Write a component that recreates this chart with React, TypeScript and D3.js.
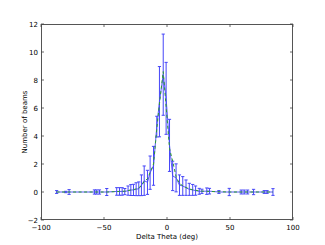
import React, { useEffect, useRef } from "react";
import * as d3 from "d3";

// bin centres (deg), counts, errors
const thetaX = [-87.6, -80.4, -77.7, -57.6, -55.8, -53.6, -47.8, -39.9, -37.7, -35.6, -33.5, -30.9, -28.7, -26.6, -24.5, -22.4, -20.3, -18.1, -15.5, -13.4, -10.7, -8.1, -6.0, -3.0, -0.7, 2.0, 4.5, 7.2, 9.9, 12.5, 15.1, 17.7, 20.4, 22.7, 25.6, 27.7, 31.6, 33.7, 41.2, 49.4, 58.9, 61.3, 64.0, 68.7, 77.2, 79.4, 84.1];
const beams = [0, 0, 0, 0, 0, 0, 0, 0.04, 0.04, 0.04, 0.03, 0.1, 0.14, 0.15, 0.2, 0.23, 0.48, 0.81, 0.69, 1.38, 1.87, 4.67, 6.45, 8.38, 6.69, 3.33, 1.15, 1.01, 0.49, 0.43, 0.31, 0.19, 0.15, 0.1, 0.05, 0.05, 0.06, 0.06, 0, 0, 0, 0, 0, 0, 0, 0, 0];
const beamErr = [0.1, 0.05, 0.17, 0.15, 0.15, 0.15, 0.25, 0.27, 0.27, 0.27, 0.22, 0.33, 0.39, 0.4, 0.46, 0.49, 0.74, 1.05, 0.86, 1.19, 1.39, 0.74, 2.51, 2.9, 2.57, 1.86, 1.05, 1.0, 0.73, 0.67, 0.55, 0.43, 0.39, 0.33, 0.21, 0.15, 0.23, 0.2, 0.1, 0.26, 0.14, 0.14, 0.14, 0.19, 0.1, 0.1, 0.24];
const fitY = [0, 0, 0, 0, 0, 0, 0, 0.03, 0.04, 0.05, 0.06, 0.1, 0.14, 0.17, 0.22, 0.3, 0.45, 0.75, 0.95, 1.4, 2.0, 4.5, 6.3, 8.6, 6.1, 3.1, 2.2, 1.1, 0.6, 0.45, 0.32, 0.22, 0.16, 0.12, 0.08, 0.06, 0.05, 0.04, 0.02, 0, 0, 0, 0, 0, 0, 0, 0];
const xTicks = [-100, -50, 0, 50, 100];
const yTicks = [-2, 0, 2, 4, 6, 8, 10, 12];

const W = 325, H = 245;
const m = { left: 41, right: 32, top: 24, bottom: 25 };

export default function App() {
  const ref = useRef<SVGSVGElement>(null);

  useEffect(() => {
    const svg = d3.select(ref.current);
    svg.selectAll("*").remove();
    const x = d3.scaleLinear().domain([-100, 100]).range([m.left, W - m.right]);
    const y = d3.scaleLinear().domain([-2, 12]).range([H - m.bottom, m.top]);
    const blue = "#4646f8";
    const font = "DejaVu Sans, sans-serif";

    const pts = thetaX.map((t, i) => ({ t, v: beams[i], e: beamErr[i], f: fitY[i] }));

    // error bars
    const eb = svg.append("g").attr("stroke", blue).attr("stroke-width", 1).attr("fill", "none");
    pts.forEach((d) => {
      const cx = x(d.t), y0 = y(d.v - d.e), y1 = y(d.v + d.e);
      eb.append("line").attr("x1", cx).attr("x2", cx).attr("y1", y0).attr("y2", y1);
      eb.append("line").attr("x1", cx - 1.6).attr("x2", cx + 1.6).attr("y1", y0).attr("y2", y0);
      eb.append("line").attr("x1", cx - 1.6).attr("x2", cx + 1.6).attr("y1", y1).attr("y2", y1);
    });

    const line = d3.line<any>().x((d) => x(d.t));
    svg.append("path").attr("d", line.y((d) => y(d.v))(pts))
      .attr("fill", "none").attr("stroke", blue).attr("stroke-width", 0.9);
    svg.append("path").attr("d", line.y((d) => y(d.f))(pts))
      .attr("fill", "none").attr("stroke", "#2e9e2e").attr("stroke-width", 1)
      .attr("stroke-dasharray", "3,2.5");

    // frame
    svg.append("rect").attr("x", m.left + 0.5).attr("y", m.top + 0.5)
      .attr("width", W - m.left - m.right - 1).attr("height", H - m.top - m.bottom - 1)
      .attr("fill", "none").attr("stroke", "#555").attr("stroke-width", 1);

    const tk = svg.append("g").attr("stroke", "#444").attr("stroke-width", 0.8);
    xTicks.forEach((t) => {
      tk.append("line").attr("x1", x(t)).attr("x2", x(t)).attr("y1", y(-2)).attr("y2", y(-2) - 3);
      tk.append("line").attr("x1", x(t)).attr("x2", x(t)).attr("y1", y(12)).attr("y2", y(12) + 3);
    });
    yTicks.forEach((t) => {
      tk.append("line").attr("x1", x(-100)).attr("x2", x(-100) + 3).attr("y1", y(t)).attr("y2", y(t));
      tk.append("line").attr("x1", x(100)).attr("x2", x(100) - 3).attr("y1", y(t)).attr("y2", y(t));
    });

    svg.append("g").selectAll("text").data(xTicks).join("text")
      .attr("x", (d) => x(d)).attr("y", y(-2) + 10).attr("text-anchor", "middle")
      .attr("font-family", font).attr("font-size", 7).text((d) => (d < 0 ? "\u2212" + -d : String(d)));
    svg.append("g").selectAll("text").data(yTicks).join("text")
      .attr("x", x(-100) - 3).attr("y", (d) => y(d) + 2.5).attr("text-anchor", "end")
      .attr("font-family", font).attr("font-size", 7).text((d) => (d < 0 ? "\u2212" + -d : String(d)));

    svg.append("text").attr("x", (m.left + W - m.right) / 2).attr("y", H - 6).attr("text-anchor", "middle")
      .attr("font-family", font).attr("font-size", 7).text("Delta Theta (deg)");
    svg.append("text").attr("transform", `translate(27,${(m.top + H - m.bottom) / 2}) rotate(-90)`)
      .attr("text-anchor", "middle").attr("font-family", font).attr("font-size", 7).text("Number of beams");
  }, []);

  return (
    <svg ref={ref} width={W} height={H}
      style={{ position: "absolute", left: 0, top: 0, background: "#fff" }} />
  );
}
